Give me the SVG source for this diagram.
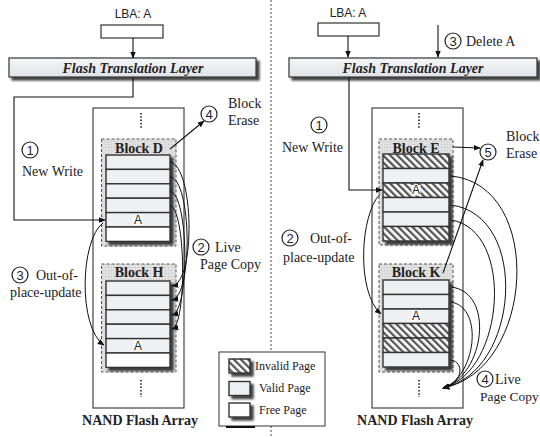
<svg xmlns="http://www.w3.org/2000/svg" width="540" height="437" viewBox="0 0 540 437">
<defs>
<pattern id="hatch" patternUnits="userSpaceOnUse" width="5" height="5" patternTransform="rotate(-45)">
<rect width="5" height="5" fill="#fff"/>
<rect width="2.3" height="5" fill="#555"/>
</pattern>
<pattern id="dots" patternUnits="userSpaceOnUse" width="3" height="3">
<rect width="3" height="3" fill="#e0e0e0"/>
<rect width="1" height="1" fill="#c4c4c4"/>
</pattern>
<linearGradient id="ftlg" x1="0" y1="0" x2="0" y2="1">
<stop offset="0" stop-color="#f4f6f8"/>
<stop offset="1" stop-color="#dfe3e8"/>
</linearGradient>
<filter id="sh" x="-20%" y="-20%" width="150%" height="150%">
<feGaussianBlur in="SourceAlpha" stdDeviation="1.3"/>
<feOffset dx="2.5" dy="2.5" result="b"/>
<feComponentTransfer><feFuncA type="linear" slope="0.75"/></feComponentTransfer>
<feMerge><feMergeNode/><feMergeNode in="SourceGraphic"/></feMerge>
</filter>
<marker id="ah" viewBox="0 0 10 10" refX="9" refY="5" markerWidth="7" markerHeight="7" orient="auto" markerUnits="userSpaceOnUse">
<path d="M0,1 L10,5 L0,9 Z" fill="#111"/>
</marker>
</defs>
<style>
.lbl{font-family:"Liberation Serif","Times New Roman",serif;font-size:14px;fill:#222}
.blk{font-family:"Liberation Serif","Times New Roman",serif;font-size:14px;font-weight:bold;fill:#222}
.ftlt{font-family:"Liberation Serif","Times New Roman",serif;font-size:14px;font-weight:bold;font-style:italic;fill:#222}
.sans{font-family:"Liberation Sans",Arial,sans-serif;font-size:12px;fill:#222}
.num{font-family:"Liberation Sans",Arial,sans-serif;font-size:13px;fill:#222}
.leg{font-family:"Liberation Serif","Times New Roman",serif;font-size:12px;fill:#222}
.box{fill:#fff;stroke:#333;stroke-width:1.2}
.arr{fill:#fff;stroke:#444;stroke-width:1.2}
.dash{fill:url(#dots);stroke:#555;stroke-width:1;stroke-dasharray:3,2}
.v{fill:#eef0f3;stroke:#333;stroke-width:1.4}
.f{fill:#fff;stroke:#333;stroke-width:1.4}
.i{fill:url(#hatch);stroke:#333;stroke-width:1.4}
.ftl{fill:url(#ftlg);stroke:#333;stroke-width:1.2}
.c{fill:#fff;stroke:#222;stroke-width:1.2}
.ln{fill:none;stroke:#111;stroke-width:1.1}
.cv{fill:none;stroke:#111;stroke-width:1}
.dots{fill:none;stroke:#222;stroke-width:1.6;stroke-dasharray:1.5,1.8}
.abox{fill:#fff}
</style>

<!-- separator -->
<line x1="271" y1="0" x2="271" y2="352" stroke="#333" stroke-width="0.9" stroke-dasharray="2,2"/>
<line x1="271" y1="426" x2="271" y2="437" stroke="#333" stroke-width="0.9" stroke-dasharray="2,2"/>

<!-- LEFT -->
<g id="lba-left">
<text class="sans" x="133" y="18" text-anchor="middle">LBA: A</text>
<rect class="box" x="101" y="25" width="62" height="13"/>
</g>
<g id="ftl-left">
<rect class="ftl" x="9" y="58" width="247" height="19" filter="url(#sh)"/>
<text class="ftlt" x="133" y="72.5" text-anchor="middle">Flash Translation Layer</text>
</g>
<g id="array-left">
<rect class="arr" x="93" y="108" width="91" height="300"/>
<line class="dots" x1="141" y1="113" x2="141" y2="129"/>
<line class="dots" x1="141" y1="380" x2="141" y2="397"/>
<text class="blk" x="140" y="425" text-anchor="middle">NAND Flash Array</text>
</g>
<g id="block-d">
<rect class="dash" x="101.5" y="139" width="74.5" height="107"/>
<text class="blk" x="139" y="153" text-anchor="middle">Block D</text>
<g filter="url(#sh)">
<rect class="v" x="106" y="155" width="64" height="14.4"/>
<rect class="v" x="106" y="169.4" width="64" height="14.4"/>
<rect class="v" x="106" y="183.8" width="64" height="14.4"/>
<rect class="v" x="106" y="198.2" width="64" height="14.4"/>
<rect class="v" x="106" y="212.6" width="64" height="14.4"/>
<rect class="f" x="106" y="227" width="64" height="14.4"/>
</g>
<rect class="abox" x="133.5" y="214.5" width="9" height="10.5"/>
<text class="sans" x="138" y="223.5" text-anchor="middle" font-size="10">A</text>
</g>
<g id="block-h">
<rect class="dash" x="101.5" y="264" width="74.5" height="108"/>
<text class="blk" x="139" y="277" text-anchor="middle">Block H</text>
<g filter="url(#sh)">
<rect class="v" x="106" y="281" width="64" height="14.4"/>
<rect class="v" x="106" y="295.4" width="64" height="14.4"/>
<rect class="v" x="106" y="309.8" width="64" height="14.4"/>
<rect class="v" x="106" y="324.2" width="64" height="14.4"/>
<rect class="v" x="106" y="338.6" width="64" height="14.4"/>
<rect class="f" x="106" y="353" width="64" height="14.4"/>
</g>
<rect class="abox" x="133.5" y="340.5" width="9" height="10.5"/>
<text class="sans" x="138" y="349.5" text-anchor="middle" font-size="10">A</text>
</g>
<g id="label-left-1">
<circle class="c" cx="30" cy="150" r="8"/>
<text class="num" x="30" y="154.5" text-anchor="middle">1</text>
<text class="lbl" x="22" y="176">New Write</text>
</g>
<g id="label-left-2">
<circle class="c" cx="201" cy="247" r="8"/>
<text class="num" x="201" y="251.5" text-anchor="middle">2</text>
<text class="lbl" x="215" y="252">Live</text>
<text class="lbl" x="200" y="269">Page Copy</text>
</g>
<g id="label-left-3">
<circle class="c" cx="20" cy="275" r="8"/>
<text class="num" x="20" y="279.5" text-anchor="middle">3</text>
<text class="lbl" x="36" y="280">Out-of-</text>
<text class="lbl" x="10" y="297">place-update</text>
</g>
<g id="label-left-4">
<circle class="c" cx="209" cy="114" r="8"/>
<text class="num" x="209" y="118.5" text-anchor="middle">4</text>
<text class="lbl" x="228" y="108">Block</text>
<text class="lbl" x="228" y="125">Erase</text>
</g>

<!-- RIGHT -->
<g id="lba-right">
<text class="sans" x="348" y="17" text-anchor="middle">LBA: A</text>
<rect class="box" x="318" y="23" width="61" height="13"/>
</g>
<g id="ftl-right">
<rect class="ftl" x="289" y="58" width="248" height="19" filter="url(#sh)"/>
<text class="ftlt" x="413" y="72.5" text-anchor="middle">Flash Translation Layer</text>
</g>
<g id="array-right">
<rect class="arr" x="372" y="108" width="91" height="300"/>
<line class="dots" x1="419" y1="113" x2="419" y2="129"/>
<line class="dots" x1="419" y1="380" x2="419" y2="397"/>
<text class="blk" x="415" y="425" text-anchor="middle">NAND Flash Array</text>
</g>
<g id="block-e">
<rect class="dash" x="379" y="139" width="74" height="106"/>
<text class="blk" x="416" y="153" text-anchor="middle">Block E</text>
<g filter="url(#sh)">
<rect class="i" x="383" y="154" width="66" height="14.5"/>
<rect class="v" x="383" y="168.5" width="66" height="14.5"/>
<rect class="i" x="383" y="183" width="66" height="14.5"/>
<rect class="v" x="383" y="197.5" width="66" height="14.5"/>
<rect class="v" x="383" y="212" width="66" height="14.5"/>
<rect class="i" x="383" y="226.5" width="66" height="14.5"/>
</g>
<rect class="abox" x="411.5" y="185" width="9" height="10.5"/>
<text class="sans" x="416" y="194" text-anchor="middle" font-size="10">A</text>
</g>
<g id="block-k">
<rect class="dash" x="379" y="264" width="74" height="108"/>
<text class="blk" x="416" y="277" text-anchor="middle">Block K</text>
<g filter="url(#sh)">
<rect class="v" x="383" y="280" width="66" height="14.5"/>
<rect class="v" x="383" y="294.5" width="66" height="14.5"/>
<rect class="v" x="383" y="309" width="66" height="14.5"/>
<rect class="i" x="383" y="323.5" width="66" height="14.5"/>
<rect class="i" x="383" y="338" width="66" height="14.5"/>
<rect class="v" x="383" y="352.5" width="66" height="14.5"/>
</g>
<rect class="abox" x="411.5" y="311" width="9" height="10.5"/>
<text class="sans" x="416" y="320" text-anchor="middle" font-size="10">A</text>
</g>
<g id="label-right-1">
<circle class="c" cx="319" cy="125" r="8"/>
<text class="num" x="319" y="129.5" text-anchor="middle">1</text>
<text class="lbl" x="282" y="152">New Write</text>
</g>
<g id="label-right-2">
<circle class="c" cx="290" cy="238" r="8"/>
<text class="num" x="290" y="242.5" text-anchor="middle">2</text>
<text class="lbl" x="310" y="243">Out-of-</text>
<text class="lbl" x="283" y="262">place-update</text>
</g>
<g id="label-right-3">
<circle class="c" cx="453" cy="41" r="8"/>
<text class="num" x="453" y="45.5" text-anchor="middle">3</text>
<text class="lbl" x="466" y="46">Delete A</text>
</g>
<g id="label-right-4">
<circle class="c" cx="485" cy="379" r="8"/>
<text class="num" x="485" y="383.5" text-anchor="middle">4</text>
<text class="lbl" x="495" y="384">Live</text>
<text class="lbl" x="480" y="401" style="font-size:13.5px">Page Copy</text>
</g>
<g id="label-right-5">
<circle class="c" cx="488" cy="152" r="8"/>
<text class="num" x="488" y="156.5" text-anchor="middle">5</text>
<text class="lbl" x="506" y="141">Block</text>
<text class="lbl" x="506" y="158">Erase</text>
</g>

<!-- LEGEND -->
<g id="legend">
<rect x="219" y="352" width="106" height="74" fill="#fff" stroke="#333" stroke-width="1"/>
<line x1="226" y1="427" x2="255" y2="427" stroke="#111" stroke-width="2"/>
<g filter="url(#sh)">
<rect class="i" x="229" y="359" width="21" height="14"/>
<rect class="v" x="229" y="381.5" width="21" height="14"/>
<rect class="f" x="229" y="403" width="21" height="14"/>
</g>
<text class="leg" x="255" y="370">Invalid Page</text>
<text class="leg" x="259" y="392">Valid Page</text>
<text class="leg" x="259" y="414">Free Page</text>
</g>

<!-- CONNECTORS -->
<g id="connectors">
<line class="ln" x1="133" y1="38" x2="133" y2="58" marker-end="url(#ah)"/>
<polyline class="ln" points="133,77 133,97 14,97 14,220 105,220" marker-end="url(#ah)"/>
<line class="ln" x1="170" y1="149" x2="204" y2="121" marker-end="url(#ah)"/>
<path class="cv" d="M170,162 C194,166 196,282 172,286" marker-end="url(#ah)"/>
<path class="cv" d="M170,176.6 C192,180 193,296 172,300" marker-end="url(#ah)"/>
<path class="cv" d="M170,191 C189,195 190,311 172,315" marker-end="url(#ah)"/>
<path class="cv" d="M170,205.4 C186,209 187,325 172,329" marker-end="url(#ah)"/>
<path class="cv" d="M103,223 C80,240 78,328 104,345" marker-end="url(#ah)"/>

<line class="ln" x1="348" y1="36" x2="348" y2="57" marker-end="url(#ah)"/>
<line class="ln" x1="438" y1="25" x2="438" y2="57" marker-end="url(#ah)"/>
<polyline class="ln" points="349,77 349,190 382,190" marker-end="url(#ah)"/>
<line class="ln" x1="453" y1="147" x2="480" y2="148" marker-end="url(#ah)"/>
<line class="ln" x1="443" y1="273" x2="483" y2="160" marker-end="url(#ah)"/>
<path class="cv" d="M380,194 C360,215 356,292 381,314" marker-end="url(#ah)"/>
<path class="cv" d="M451,176 C545,185 535,370 443,388" marker-end="url(#ah)"/>
<path class="cv" d="M451,205 C530,215 520,372 443,388" marker-end="url(#ah)"/>
<path class="cv" d="M451,220 C515,230 505,372 443,388" marker-end="url(#ah)"/>
<path class="cv" d="M451,287 C495,292 485,375 443,388" marker-end="url(#ah)"/>
<path class="cv" d="M451,302 C485,308 475,378 443,388" marker-end="url(#ah)"/>
<path class="cv" d="M451,360 C464,362 464,382 443,388" marker-end="url(#ah)"/>
</g>
</svg>
